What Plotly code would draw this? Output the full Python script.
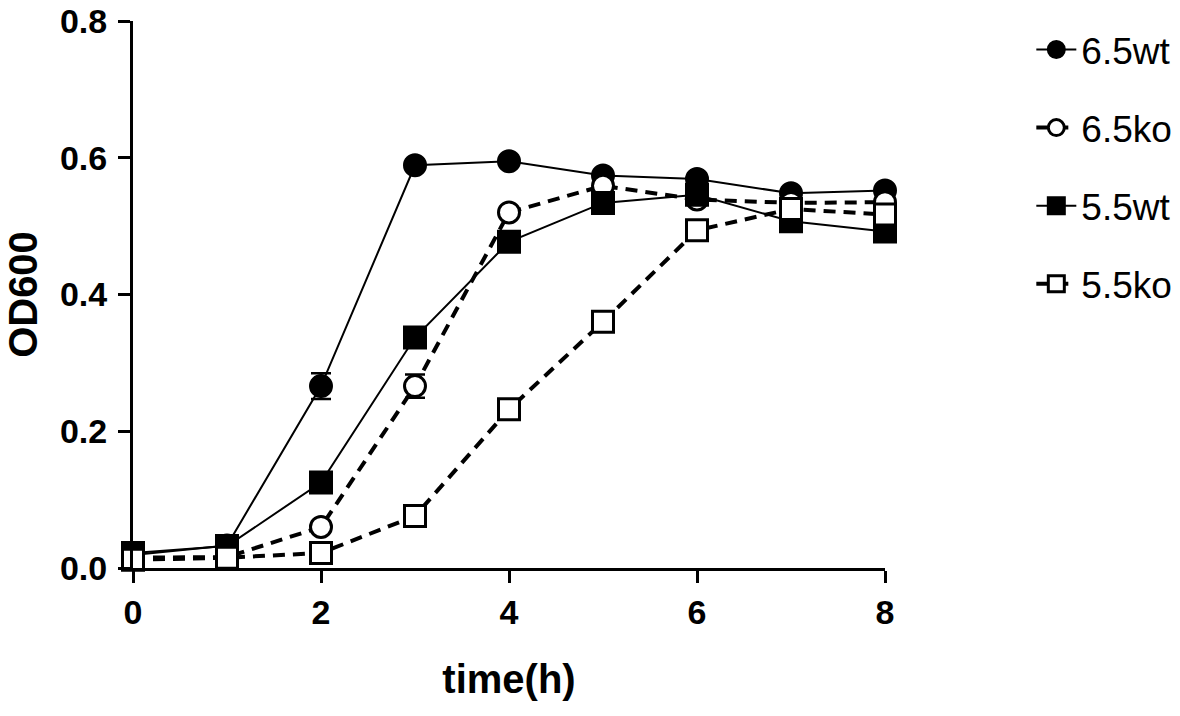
import plotly.graph_objects as go

time_h = [0, 1, 2, 3, 4, 5, 6, 7, 8]
wt65 = [0.019, 0.033, 0.266, 0.589, 0.595, 0.574, 0.569, 0.548, 0.552]
wt65_sd = [0.003, 0.004, 0.019, 0.006, 0.005, 0.006, 0.006, 0.005, 0.004]
ko65 = [0.015, 0.016, 0.060, 0.266, 0.520, 0.559, 0.539, 0.534, 0.535]
ko65_sd = [0.002, 0.003, 0.005, 0.017, 0.006, 0.005, 0.006, 0.004, 0.004]
wt55 = [0.022, 0.032, 0.125, 0.337, 0.477, 0.534, 0.546, 0.507, 0.492]
wt55_sd = [0.003, 0.003, 0.006, 0.007, 0.006, 0.005, 0.005, 0.004, 0.004]
ko55 = [0.012, 0.015, 0.022, 0.076, 0.232, 0.360, 0.494, 0.525, 0.517]
ko55_sd = [0.002, 0.002, 0.003, 0.005, 0.006, 0.006, 0.006, 0.004, 0.004]

x_ticks = [0, 2, 4, 6, 8]
y_ticks = [0, 0.2, 0.4, 0.6, 0.8]
y_ticktext = ["0.0", "0.2", "0.4", "0.6", "0.8"]

series = [
    ("6.5wt", wt65, wt65_sd, "circle", "black", "solid", 2),
    ("6.5ko", ko65, ko65_sd, "circle", "white", "12px,8px", 4),
    ("5.5wt", wt55, wt55_sd, "square", "black", "solid", 2),
    ("5.5ko", ko55, ko55_sd, "square", "white", "12px,8px", 4),
]

fig = go.Figure()
for name, vals, sd, sym, fill, dash, lw in series:
    fig.add_trace(go.Scatter(
        x=time_h, y=vals, name=name, mode="lines+markers",
        legendgroup=name,
        line=dict(color="black", width=lw, dash=dash),
        marker=dict(symbol=sym, size=21, color=fill,
                    line=dict(color="black", width=3)),
        error_y=dict(type="data", array=sd, visible=True,
                     color="black", thickness=2.5, width=10),
        cliponaxis=False,
    ))

font_family = "Arial, Liberation Sans, sans-serif"
fig.update_layout(
    width=1180, height=716,
    margin=dict(l=133, r=295, t=21, b=148, autoexpand=False),
    paper_bgcolor="white", plot_bgcolor="white",
    font=dict(family=font_family, color="black"),
    showlegend=True,
    legend=dict(x=0.874, xanchor="left", xref="container",
                y=0.9735, yanchor="top", yref="container",
                font=dict(size=37, family=font_family),
                tracegroupgap=27, itemwidth=40,
                bgcolor="rgba(0,0,0,0)"),
    xaxis=dict(
        range=[0, 8], tickmode="array", tickvals=x_ticks,
        showline=True, linecolor="black", linewidth=3,
        ticks="outside", ticklen=12, tickwidth=3, tickcolor="black",
        showgrid=False, zeroline=False, ticklabeloverflow="allow",
        automargin=False,
        tickfont=dict(size=34, family=font_family, weight="bold"),
        title=dict(text="<b>time(h)</b>", font=dict(size=40), standoff=36),
    ),
    yaxis=dict(
        range=[0, 0.8], tickmode="array", tickvals=y_ticks,
        ticktext=y_ticktext,
        showline=True, linecolor="black", linewidth=3,
        ticks="outside", ticklen=12, tickwidth=3, tickcolor="black",
        showgrid=False, zeroline=False, ticklabeloverflow="allow",
        automargin=False,
        tickfont=dict(size=34, family=font_family, weight="bold"),
        ticklabelstandoff=4,
        title=dict(text="<b>OD600</b>", font=dict(size=40), standoff=10),
    ),
)

fig.write_html("out.html",
               config={"displayModeBar": False},
               post_script="document.body.style.margin='0';"
                           "document.body.style.overflow='hidden';")
